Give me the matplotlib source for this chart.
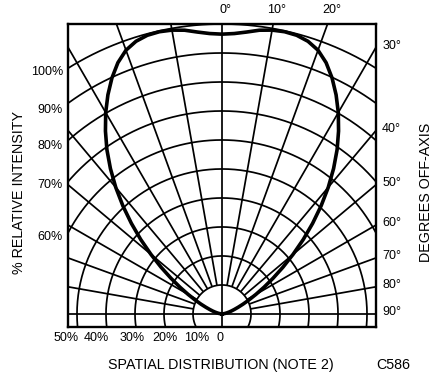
#!/usr/bin/env python3
"""Spatial distribution (polar intensity) chart, LED datasheet style."""
import numpy as np
import matplotlib
matplotlib.use('Agg')
import matplotlib.pyplot as plt

# half of the symmetric radiation pattern: off-axis angle (deg) -> % relative intensity
half_angles = [0, 2.5, 5, 7.5, 10, 12.5, 15, 17.5, 20, 22.5, 25, 27.5, 30, 32.5, 35,
               37.5, 40, 42.5, 45, 47.5, 50, 52.5, 55, 57.5, 60, 62.5, 65, 67.5, 70,
               72.5, 75, 77.5, 80, 85, 90]
half_intensity = [96.5, 96.8, 97.6, 98.7, 99.4, 99.7, 99.5, 98.6, 96.8, 93.8, 89.8, 85.2,
                  80.2, 74.8, 69.2, 63.2, 57, 50.6, 44.2, 38, 32, 26.5, 21.5, 17.2, 13.5,
                  10.5, 8, 6, 4.5, 3.4, 2.5, 1.7, 1.1, 0.4, 0]

grid_radii = [10, 20, 30, 40, 50, 60, 70, 80, 90, 100]
grid_angles = [-80, -70, -60, -50, -40, -30, -20, -10, 10, 20, 30, 40, 50, 60, 70, 80]

top_labels = ['0°', '10°', '20°']
top_angles = [0, 10, 20]
right_labels = ['30°', '40°', '50°', '60°', '70°', '80°', '90°']
right_angles = [30, 40, 50, 60, 70, 80, 90]
left_labels = ['100%', '90%', '80%', '70%', '60%']
left_label_y = [83.4, 70.3, 57.9, 44.5, 26.6]
bottom_labels = ['50%', '40%', '30%', '20%', '10%', '0']
bottom_label_x = [-53.8, -43.4, -31.0, -19.7, -8.6, -0.6]

XMAX = 53.1
YMIN, YMAX = -4.5, 100

plt.rcParams['font.family'] = ['Liberation Sans', 'DejaVu Sans']


def polar_xy(angle_deg, r):
    a = np.radians(np.asarray(angle_deg, dtype=float))
    r = np.asarray(r, dtype=float)
    return r * np.sin(a), r * np.cos(a)


def main():
    fig = plt.figure(figsize=(4.32, 3.79), dpi=100)
    ax = fig.add_axes([68 / 432, 52 / 379, 308 / 432, 303 / 379])
    ax.set_xlim(-XMAX, XMAX)
    ax.set_ylim(YMIN, YMAX)
    ax.set_xticks([])
    ax.set_yticks([])
    for sp in ax.spines.values():
        sp.set_linewidth(1.7)

    grid_kw = dict(color='black', lw=1.25, solid_capstyle='butt')
    t = np.linspace(0, 2 * np.pi, 721)
    for r in grid_radii:
        ax.plot(r * np.cos(t), r * np.sin(t), **grid_kw)
    for a in grid_angles:
        x, y = polar_xy([a, a], [10, 200])
        ax.plot(x, y, **grid_kw)
    # on-axis and 90 deg lines run through the origin
    ax.plot([0, 0], [YMIN - 5, 150], **grid_kw)
    ax.plot([-100, 100], [0, 0], **grid_kw)

    angles = [-a for a in half_angles[::-1]] + half_angles[1:]
    intensity = half_intensity[::-1] + half_intensity[1:]
    cx, cy = polar_xy(angles, intensity)
    ax.plot(cx, cy, color='black', lw=2.6, solid_joinstyle='round')

    fs = 9
    for lab, a in zip(top_labels, top_angles):
        ax.text(YMAX * np.tan(np.radians(a)) + 1.3, YMAX + 4.8, lab,
                ha='center', va='center', fontsize=fs, clip_on=False)
    for lab, a in zip(right_labels, right_angles):
        y = XMAX / np.tan(np.radians(a)) if a < 90 else 0.0
        ax.text(XMAX + 2.1, y + 0.6, lab, ha='left', va='center', fontsize=fs, clip_on=False)
    for lab, y in zip(left_labels, left_label_y):
        ax.text(-XMAX - 1.7, y, lab, ha='right', va='center', fontsize=fs, clip_on=False)
    for lab, x in zip(bottom_labels, bottom_label_x):
        ax.text(x, -8.3, lab, ha='center', va='center', fontsize=fs, clip_on=False)

    tfs = 10.3
    fig.text(19 / 432, 1 - 193 / 379, '% RELATIVE INTENSITY', rotation=90,
             ha='center', va='center', fontsize=tfs)
    fig.text(426 / 432, 1 - 192 / 379, 'DEGREES OFF-AXIS', rotation=90,
             ha='center', va='center', fontsize=tfs)
    fig.text(221 / 432, 1 - 365 / 379, 'SPATIAL DISTRIBUTION (NOTE 2)',
             ha='center', va='center', fontsize=tfs)
    fig.text(393 / 432, 1 - 365 / 379, 'C586', ha='center', va='center', fontsize=tfs)

    fig.savefig('out.png', dpi=100)
    plt.close(fig)


if __name__ == '__main__':
    main()
